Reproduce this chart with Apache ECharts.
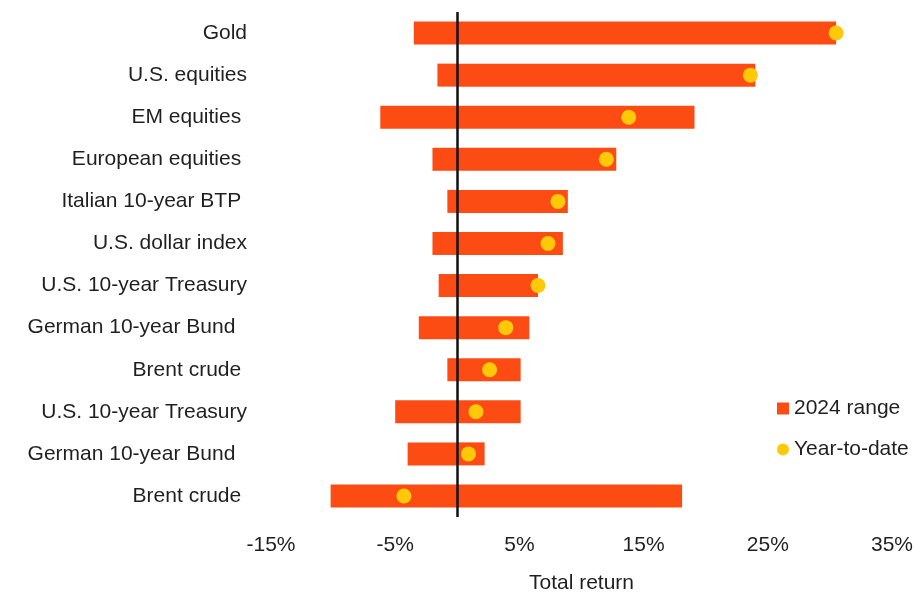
<!DOCTYPE html>
<html>
<head>
<meta charset="utf-8">
<script src="https://cdn.jsdelivr.net/npm/echarts@6/dist/echarts.min.js"></script>
<style>
  html, body { margin: 0; padding: 0; background: #fff; }
  #chart { width: 914px; height: 594px; }
</style>
</head>
<body>
<div id="chart"></div>
<script>
// asset names, top to bottom (trailing spaces kept as in the source labels)
const categories = [
  'Gold',
  'U.S. equities',
  'EM equities ',
  'European equities ',
  'Italian 10-year BTP ',
  'U.S. dollar index',
  'U.S. 10-year Treasury',
  'German 10-year Bund  ',
  'Brent crude ',
  'U.S. 10-year Treasury',
  'German 10-year Bund  ',
  'Brent crude '
]

// 2024 range, % total return
const rangeLow = [-3.5, -1.6, -6.2, -2.0, -0.8, -2.0, -1.5, -3.1, -0.8, -5.0, -4.0, -10.2]
const rangeHigh = [30.5, 24.0, 19.1, 12.8, 8.9, 8.5, 6.5, 5.8, 5.1, 5.1, 2.2, 18.1]

// year-to-date return, %
const ytd = [30.5, 23.6, 13.8, 12.0, 8.1, 7.3, 6.5, 3.9, 2.6, 1.5, 0.9, -4.3]

const barColor = '#FC4C14'
const dotColor = '#FFC907'
const textColor = '#1f1f1f'
const font = 'Liberation Sans, Arial, sans-serif'

const chart = echarts.init(document.getElementById('chart'))

chart.setOption({
  animation: false,
  textStyle: { fontFamily: font },
  grid: {
    left: 271,
    right: 22,
    top: 12,
    bottom: 77,
    containLabel: false,
    outerBoundsMode: 'none'
  },
  legend: {
    orient: 'vertical',
    left: 772,
    top: 393,
    itemWidth: 12,
    itemHeight: 12,
    itemGap: 20,
    textStyle: { fontSize: 21, color: textColor, fontFamily: font },
    data: [
      { name: '2024 range', icon: 'rect' },
      { name: 'Year-to-date', icon: 'circle' }
    ]
  },
  xAxis: {
    type: 'value',
    min: -15,
    max: 35,
    interval: 10,
    name: 'Total return',
    nameLocation: 'middle',
    nameGap: 56,
    nameTextStyle: { fontSize: 21, color: textColor, fontFamily: font },
    axisLine: { show: false },
    axisTick: { show: false },
    splitLine: { show: false },
    axisLabel: {
      formatter: '{value}%',
      fontSize: 21,
      color: textColor,
      fontFamily: font,
      margin: 18
    }
  },
  yAxis: {
    type: 'category',
    data: categories,
    inverse: true,
    axisLine: { show: false },
    axisTick: { show: false },
    splitLine: { show: false },
    axisLabel: {
      fontSize: 21,
      color: textColor,
      fontFamily: font,
      margin: 24
    }
  },
  series: [
    {
      name: '2024 range',
      type: 'bar',
      stack: 'range',
      data: rangeLow,
      barWidth: 23,
      itemStyle: { color: barColor }
    },
    {
      name: '2024 range',
      type: 'bar',
      stack: 'range',
      data: rangeHigh,
      barWidth: 23,
      itemStyle: { color: barColor }
    },
    {
      name: 'Year-to-date',
      type: 'scatter',
      data: ytd.map((v, i) => [v, i]),
      symbolSize: 15,
      itemStyle: { color: dotColor, opacity: 1 },
      z: 5,
      // zero reference line across the whole plot
      markLine: {
        silent: true,
        symbol: 'none',
        label: { show: false },
        lineStyle: { color: '#111', width: 2.5, type: 'solid' },
        data: [{ xAxis: 0 }]
      }
    }
  ]
})
</script>
</body>
</html>
